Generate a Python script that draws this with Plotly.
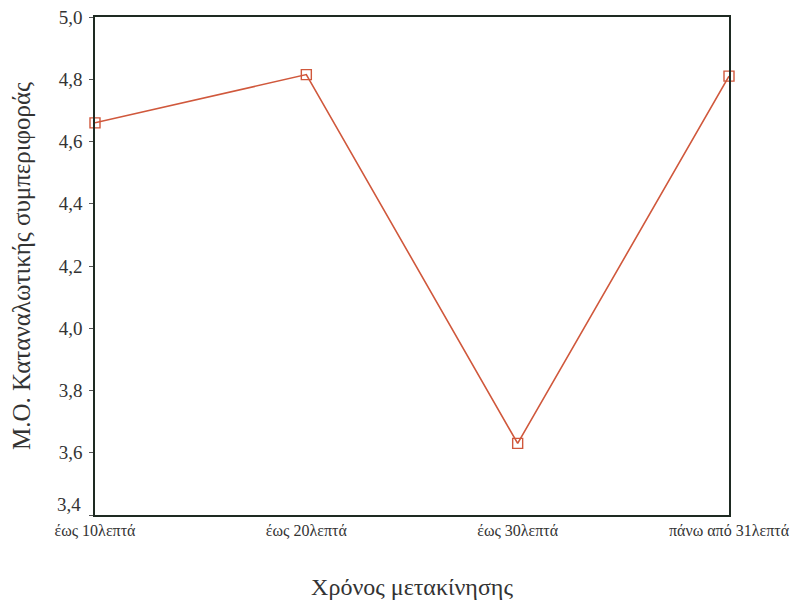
import plotly.graph_objects as go

categories = ['έως 10λεπτά', 'έως 20λεπτά', 'έως 30λεπτά', 'πάνω από 31λεπτά']
means = [4.66, 4.815, 3.63, 4.81]
y_ticks = [3.4, 3.6, 3.8, 4.0, 4.2, 4.4, 4.6, 4.8, 5.0]
y_ticklabels = ['3,4', '3,6', '3,8', '4,0', '4,2', '4,4', '4,6', '4,8', '5,0']

x_pos = list(range(len(categories)))
color = '#d0583c'
serif = 'Liberation Serif'

fig = go.Figure(go.Scatter(
    x=x_pos, y=means,
    mode='lines+markers',
    line=dict(color=color, width=1.6),
    marker=dict(symbol='square-open', size=10, color=color, line=dict(width=1.4)),
    cliponaxis=False,
    hoverinfo='y'
))

# lowest label sits a little above the axis corner, as in the original
shown = ['' if v == y_ticks[0] else t for v, t in zip(y_ticks, y_ticklabels)]
fig.add_annotation(
    x=0, y=y_ticks[0], xref='paper', yref='y', text=y_ticklabels[0],
    showarrow=False, xanchor='right', yanchor='middle', xshift=-12, yshift=11,
    font=dict(family=serif, size=19, color='#333333'),
)

# page body has an 8px margin, so the figure is a bit smaller than the window
fig.update_layout(
    width=790, height=602,
    margin=dict(l=87, r=69, t=9, b=95),
    paper_bgcolor='white', plot_bgcolor='white',
    font=dict(family=serif, size=19, color='#333333'),
    showlegend=False,
)
fig.update_xaxes(
    range=[0, 3], tickvals=x_pos, ticktext=categories,
    showgrid=False, zeroline=False, automargin=False,
    showline=True, linecolor='#1e2a22', linewidth=1.5, mirror=True,
    ticks='', tickfont=dict(size=16), ticklabeloverflow='allow',
    title=dict(text='Χρόνος μετακίνησης', font=dict(size=24), standoff=40),
)
fig.update_yaxes(
    range=[3.4, 5.0], tickvals=y_ticks, ticktext=shown,
    showgrid=False, zeroline=False, automargin=False,
    showline=True, linecolor='#1e2a22', linewidth=1.5, mirror=True,
    ticks='outside', ticklen=4, tickcolor='#555555', tickfont=dict(size=19),
    ticklabeloverflow='allow', ticklabelstandoff=3,
    title=dict(text='Μ.Ο. Καταναλωτικής συμπεριφοράς', font=dict(size=25), standoff=22),
)

fig.write_html("out.html")
